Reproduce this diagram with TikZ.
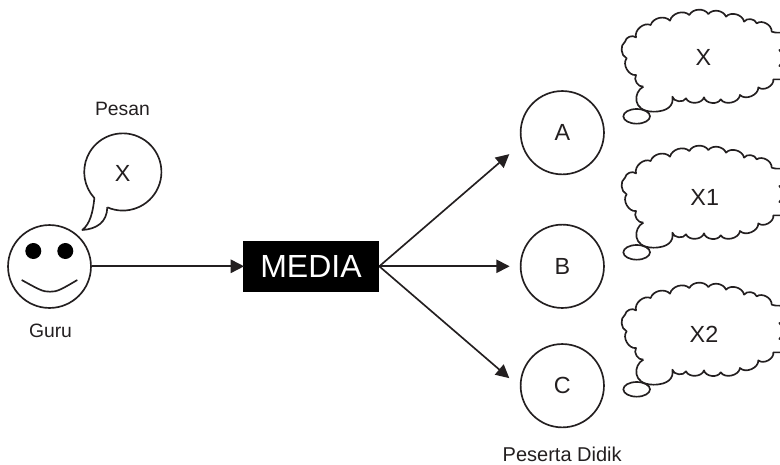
\documentclass[tikz,border=0pt]{standalone}
\usepackage{fontspec}
\setmainfont{Liberation Sans}
\usetikzlibrary{arrows.meta}
\definecolor{ink}{HTML}{231F20}
\tikzset{
  lin/.style={draw=ink,line width=1.25pt},
  conn/.style={lin,-{Triangle[length=10pt,width=10pt]},shorten >=-1pt},
  circ/.style={circle,lin,minimum size=62.5pt,inner sep=0pt,text=ink,font=\fontsize{17.5}{19}\selectfont},
  big/.style={text=ink,inner sep=0pt,font=\fontsize{17.5}{19}\selectfont},
  small/.style={text=ink,inner sep=0pt,font=\fontsize{15}{17}\selectfont},
  eye/.style={circle,fill=black,minimum size=12pt,inner sep=0pt},
  bump/.style={bend right=#1},
}
\newcommand{\thoughtcloud}[2]{%
  \begin{scope}[shift={(600,#1)},x=.25pt,y=-.25pt]
    \draw[lin,line join=round]
      (130,260) .. controls (100,275) and (95,335) .. (160,335)
      .. controls (205,335) and (222,315) .. (217,290)
      to[bump=70] (258,295) to[bump=70] (312,292) to[bump=70] (362,298)
      to[bump=70] (420,285) to[bump=70] (475,262) to[bump=70] (520,238)
      -- (560,238) -- (600,238) to[bump=50] (538,198) to[bump=50] (538,150)
      to[bump=50] (600,98) -- (542,98)
      .. controls (530,98) and (520,98) .. (515,95)
      to[bump=65] (470,70) to[bump=65] (432,65) to[bump=65] (378,50)
      to[bump=60] (325,42) to[bump=60] (268,45) to[bump=60] (210,62)
      to[bump=60] (152,75) to[bump=65] (108,112) to[bump=60] (75,125)
      to[bump=60] (80,175) to[bump=70] (108,225) to[bump=65] (130,260);
    \draw[lin] (110,349-#2) ellipse [x radius=40,y radius=22];
  \end{scope}%
}
\begin{document}
\begin{tikzpicture}[x=.75pt,y=-.75pt]
\useasboundingbox (0,0) rectangle (780,464);
\clip (0,0) rectangle (780,464);
% smiley
\node[circle,lin,minimum size=62.2pt,inner sep=0pt] (face) at (49.5,266.5) {};
\node[eye] (eyeL) at (33.3,251) {};
\node[eye] (eyeR) at (65.3,251) {};
\draw[lin] (21.7,280) .. controls (38,289) and (43,292) .. (50,291.7)
  .. controls (57,292) and (62,289) .. (77.3,280);
% speech bubble
\draw[lin,line join=round] (107.3,207.3) arc[start angle=113.7,end angle=-222.5,radius=38.6]
  .. controls (93,212) and (90,224) .. (82.3,230)
  .. controls (97,229) and (107,222) .. (107.3,207.3);
\node[big] (msg) at (122.7,173.3) {X};
\node[small,font=\fontsize{14.5}{16}\selectfont] (pesan) at (122.5,109) {Pesan};
\node[small,font=\fontsize{14.5}{16}\selectfont] (guru) at (50.5,330.5) {Guru};
% media
\node[fill=black,text=white,minimum width=102pt,minimum height=38pt,inner sep=0pt,font=\fontsize{24}{26}\selectfont] (media) at (311,266.3) {MEDIA};
% audience
\node[circ] (A) at (562.3,132.7) {A};
\node[circ] (B) at (562.3,266.3) {B};
\node[circ] (C) at (562.3,385.7) {C};
\node[small] (peserta) at (562.2,454.5) {Peserta Didik};
% connectors
\coordinate (ta) at (508.3,155);
\coordinate (tb) at (508.3,266.3);
\coordinate (tc) at (508.3,377.3);
\draw[conn] (face.east |- media.west) -- (media.west);
\draw[conn] (media.east) -- (ta);
\draw[conn] (media.east) -- (tb);
\draw[conn] (media.east) -- (tc);
% clouds
\thoughtcloud{0}{0}
\thoughtcloud{136}{0}
\thoughtcloud{273}{0}
\node[big] (c1) at (703.3,57) {X};
\node[big] (c2) at (704.7,197) {X1};
\node[big] (c3) at (704,334.3) {X2};
\end{tikzpicture}
\end{document}
